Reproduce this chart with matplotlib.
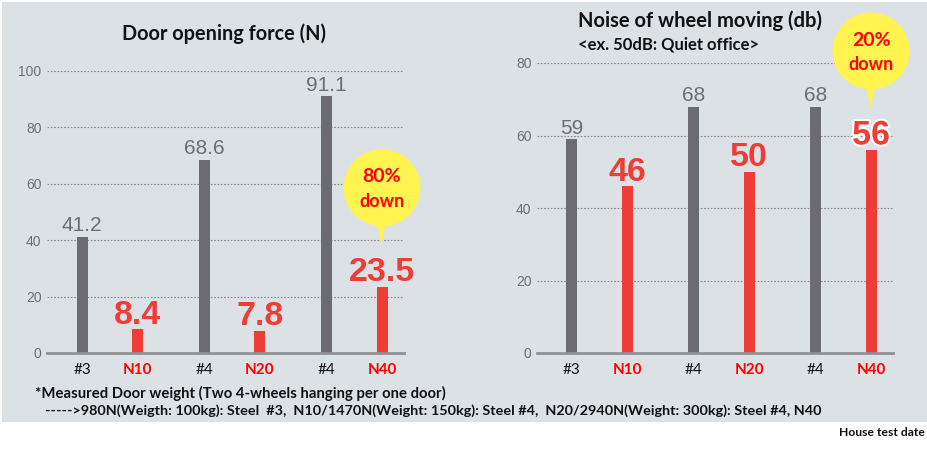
import matplotlib
matplotlib.use("Agg")
import matplotlib.pyplot as plt
from matplotlib.patches import Rectangle, Circle, Polygon
from matplotlib import transforms
import matplotlib.patheffects as pe

# ---------------- data ----------------
categories = ['#3', 'N10', '#4', 'N20', '#4', 'N40']
force_values = [41.2, 8.4, 68.6, 7.8, 91.1, 23.5]
noise_values = [59, 46, 68, 50, 68, 56]
force_ticks = [0, 20, 40, 60, 80, 100]
noise_ticks = [0, 20, 40, 60, 80]
force_title = 'Door opening force (N)'
noise_title = 'Noise of wheel moving (db)'
noise_subtitle = '<ex. 50dB: Quiet office>'
force_callout = '80%\ndown'
noise_callout = '20%\ndown'
note_line1 = '*Measured Door weight (Two 4-wheels hanging per one door)'
note_line2 = ('----->980N(Weigth: 100kg): Steel  #3,  N10/1470N(Weight: 150kg): '
              'Steel #4,  N20/2940N(Weight: 300kg): Steel #4, N40')
source_note = 'House test date'

# ---------------- style ----------------
W, H = 928, 451
BG = '#dce1e6'
GRAY_BAR = '#6b6c70'
RED_BAR = '#ee3d36'
GRAY_TXT = '#6d6e71'
RED_TXT = '#ff0000'
YELLOW = '#fff350'
UI_FONT = ['Lato', 'DejaVu Sans']
NUM_FONT = ['Liberation Sans', 'DejaVu Sans']

fig = plt.figure(figsize=(W / 100, H / 100), dpi=100)
fig.patch.set_facecolor('white')
fig.add_artist(Rectangle((2 / W, (H - 422) / H), 926 / W, 420 / H,
                         transform=fig.transFigure, facecolor=BG,
                         edgecolor='none', zorder=-10))


def px_axes(x0, x1, y_top, y_bottom):
    return fig.add_axes([x0 / W, (H - y_bottom) / H, (x1 - x0) / W,
                         (y_bottom - y_top) / H])


def positions(n):
    return [i // 2 + (i % 2) * 0.455 for i in range(n)]


def draw_panel(ax, values, ticks, callout_text):
    xs = positions(len(values))
    is_new = [c.startswith('N') for c in categories]
    colors = [RED_BAR if n else GRAY_BAR for n in is_new]
    ax.bar(xs, values, width=0.09, color=colors, zorder=3)
    ax.set_xlim(-0.287, 2.635)
    ax.set_ylim(0, ticks[-1])
    ax.set_facecolor('none')
    for s in ['top', 'right', 'left']:
        ax.spines[s].set_visible(False)
    ax.spines['bottom'].set_color('#8e9094')
    ax.spines['bottom'].set_linewidth(2)
    ax.spines['bottom'].set_zorder(4)
    ax.set_yticks(ticks)
    ax.set_yticklabels([str(t) for t in ticks], family=NUM_FONT,
                       fontsize=10, color=GRAY_TXT)
    ax.tick_params(axis='y', length=0, pad=4)
    ax.yaxis.grid(True, color='#8a8a8a', linestyle=(0, (1.5, 1.5)),
                  linewidth=0.8)
    ax.set_axisbelow(True)
    ax.set_xticks(xs)
    ax.set_xticklabels(categories, family=UI_FONT, fontsize=11)
    ax.tick_params(axis='x', length=0, pad=7)
    for lab, n in zip(ax.get_xticklabels(), is_new):
        lab.set_color(RED_TXT if n else '#111111')
        lab.set_fontweight('bold' if n else 'normal')

    for x, v, n in zip(xs, values, is_new):
        txt = ('%g' % v)
        if n:
            ax.annotate(txt, (x, v), xytext=(0, 4),
                        textcoords='offset points', ha='center',
                        va='baseline', family=NUM_FONT, fontsize=24.5,
                        fontweight='bold', color=RED_BAR, zorder=6,
                        annotation_clip=False)
        else:
            ax.annotate(txt, (x, v), xytext=(0, 4),
                        textcoords='offset points', ha='center',
                        va='baseline', family=NUM_FONT, fontsize=15,
                        color=GRAY_TXT, zorder=6, annotation_clip=False)

    # callout above the last bar
    xl, vl = xs[-1], values[-1]
    anchor = fig.dpi_scale_trans + transforms.ScaledTranslation(
        xl, vl, ax.transData)
    circ = Circle((0, 0.99), 0.385, transform=anchor, facecolor=YELLOW,
                  edgecolor='none', zorder=7, clip_on=False)
    tri = Polygon([(-0.065, 0.72), (0.055, 0.72), (-0.005, 0.41)],
                  closed=True, transform=anchor, facecolor=YELLOW,
                  edgecolor='none', zorder=7, clip_on=False)
    ax.add_artist(circ)
    ax.add_artist(tri)
    line1, line2 = callout_text.split('\n')
    ax.text(0, 1.10, line1, transform=anchor, ha='center', va='center',
            family=UI_FONT, fontsize=14, fontweight='bold', color=RED_TXT,
            zorder=8, clip_on=False)
    ax.text(0, 0.855, line2, transform=anchor, ha='center', va='center',
            family=UI_FONT, fontsize=13, fontweight='bold', color=RED_TXT,
            zorder=8, clip_on=False)
    return ax


ax1 = px_axes(47, 404, 71, 353)
draw_panel(ax1, force_values, force_ticks, force_callout)
ax2 = px_axes(537, 893, 63, 353)
draw_panel(ax2, noise_values, noise_ticks, noise_callout)

# white outline on the last red value in the noise chart
last = [c for c in ax2.texts if c.get_text() == '%g' % noise_values[-1]]
for c in last:
    c.set_path_effects([pe.withStroke(linewidth=3, foreground='white')])

# titles
fig.text(224 / W, 1 - 34 / H, force_title, ha='center', va='center',
         family=UI_FONT, fontsize=14.3, fontweight='bold', color='#111111')
fig.text(700 / W, 1 - 21 / H, noise_title, ha='center', va='center',
         family=UI_FONT, fontsize=14.5, fontweight='bold', color='#111111')
fig.text(578 / W, 1 - 45 / H, noise_subtitle, ha='left', va='center',
         family=UI_FONT, fontsize=12, fontweight='bold', color='#111111')

# notes
fig.text(35 / W, 1 - 393 / H, note_line1, ha='left', va='center',
         family=UI_FONT, fontsize=10.7, fontweight='bold', color='#111111')
fig.text(45 / W, 1 - 411 / H, note_line2, ha='left', va='center',
         family=UI_FONT, fontsize=10.4, fontweight='bold', color='#111111')
fig.text(925 / W, 1 - 432 / H, source_note, ha='right', va='center',
         family=UI_FONT, fontsize=8.7, fontweight='bold', color='#111111')

fig.savefig('out.png', dpi=100, facecolor=fig.get_facecolor())
